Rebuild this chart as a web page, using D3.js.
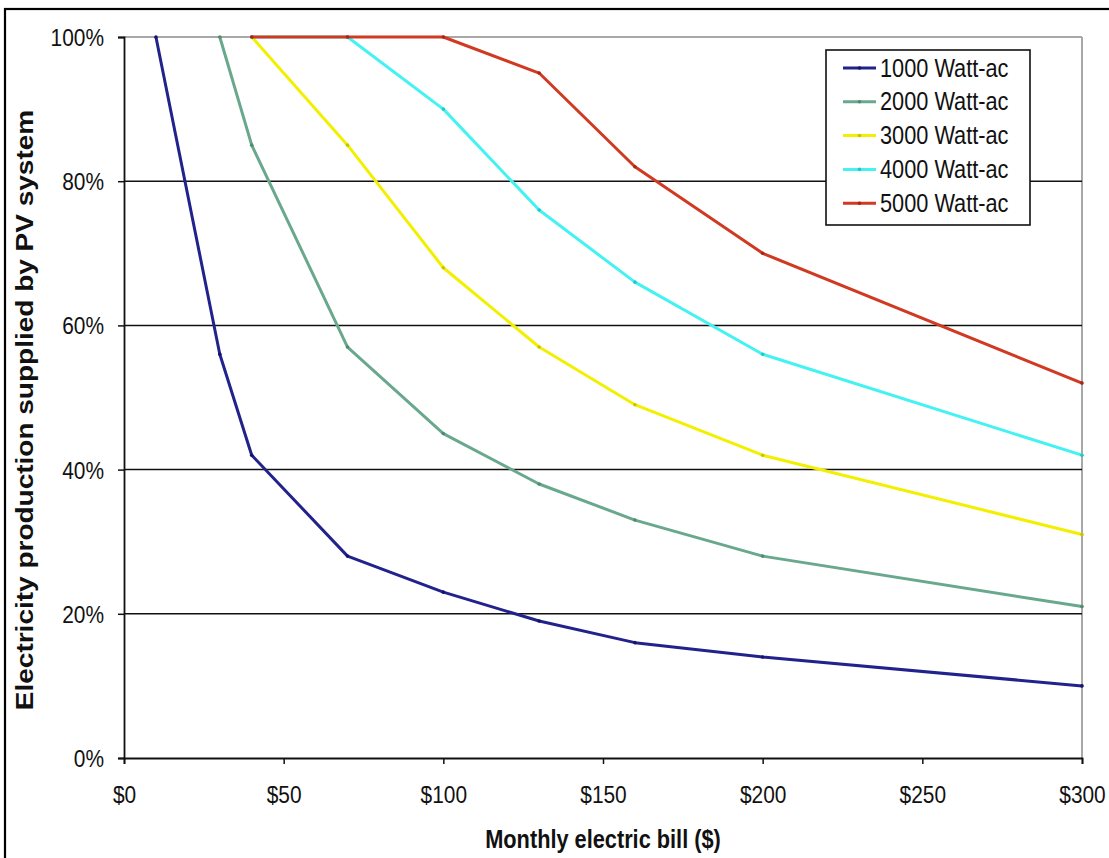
<!DOCTYPE html>
<html>
<head>
<meta charset="utf-8">
<script src="https://cdn.jsdelivr.net/npm/d3@7"></script>
<style>
  html, body { margin: 0; padding: 0; background: #fff; }
  svg { display: block; }
  text { font-family: Arial, "Liberation Sans", sans-serif; fill: #111; }
</style>
</head>
<body>
<svg id="chart" width="1109" height="858"></svg>
<script>
// ---- data ----
const bills = [10, 30, 40, 70, 100, 130, 160, 200, 300];
const seriesNames = ["1000 Watt-ac", "2000 Watt-ac", "3000 Watt-ac", "4000 Watt-ac", "5000 Watt-ac"];
const seriesColors = ["#22228c", "#6aa88e", "#f2f000", "#44f2f2", "#d03a22"];
const markerColors = ["#14146a", "#4f8a72", "#c8c400", "#20c8c8", "#a02818"];
// null where the series has no point
const w1000 = [100, 56, 42, 28, 23, 19, 16, 14, 10];
const w2000 = [null, 100, 85, 57, 45, 38, 33, 28, 21];
const w3000 = [null, null, 100, 85, 68, 57, 49, 42, 31];
const w4000 = [null, null, 100, 100, 90, 76, 66, 56, 42];
const w5000 = [null, null, 100, 100, 100, 95, 82, 70, 52];
const seriesValues = [w1000, w2000, w3000, w4000, w5000];
const xTicks = [0, 50, 100, 150, 200, 250, 300];
const yTicks = [0, 20, 40, 60, 80, 100];

// ---- layout ----
const svg = d3.select("#chart");
const pL = 124, pR = 1082, pT = 37, pB = 758;
const SX = 0.87; // horizontal squash of text seen in reference

const x = d3.scaleLinear().domain([0, 300]).range([pL, pR]);
const y = d3.scaleLinear().domain([0, 100]).range([pB, pT]);

// outer frame
svg.append("rect").attr("x", 5).attr("y", 9).attr("width", 1120).attr("height", 870)
  .attr("fill", "#fff").attr("stroke", "#000").attr("stroke-width", 2.2);

// plot border (gray top & right)
svg.append("line").attr("x1", pL).attr("x2", pR).attr("y1", y(100)).attr("y2", y(100))
  .attr("stroke", "#a8a8a8").attr("stroke-width", 2);
svg.append("line").attr("x1", pR).attr("x2", pR).attr("y1", pT).attr("y2", pB)
  .attr("stroke", "#a8a8a8").attr("stroke-width", 2);

// gridlines
svg.append("g").selectAll("line").data(yTicks.filter(d => d > 0 && d < 100)).join("line")
  .attr("x1", pL).attr("x2", pR).attr("y1", d => y(d)).attr("y2", d => y(d))
  .attr("stroke", "#111").attr("stroke-width", 1.5);

// y axis
const yAxis = svg.append("g").attr("transform", `translate(${pL},0)`)
  .call(d3.axisLeft(y).tickValues(yTicks).tickFormat(d => d + "%").tickSize(6).tickPadding(0));
yAxis.select(".domain").attr("stroke", "#111").attr("stroke-width", 1.8);
yAxis.selectAll(".tick line").attr("stroke", "#111").attr("stroke-width", 1.5);
yAxis.selectAll(".tick text")
  .attr("x", 0).attr("dy", "0.35em")
  .attr("transform", `translate(-20,0) scale(${SX},1)`)
  .style("font-size", "24px").style("font-family", "Arial, 'Liberation Sans', sans-serif").attr("fill", "#111");

// x axis
const xAxis = svg.append("g").attr("transform", `translate(0,${pB})`)
  .call(d3.axisBottom(x).tickValues(xTicks).tickFormat(d => "$" + d).tickSize(6).tickPadding(0));
xAxis.select(".domain").attr("stroke", "#111").attr("stroke-width", 1.8);
xAxis.selectAll(".tick line").attr("stroke", "#111").attr("stroke-width", 1.5);
xAxis.selectAll(".tick text")
  .attr("y", 0).attr("dy", 0)
  .attr("transform", `translate(0,45) scale(${SX},1)`)
  .style("font-size", "24px").style("font-family", "Arial, 'Liberation Sans', sans-serif").attr("fill", "#111");

// axis titles
svg.append("text")
  .attr("transform", `translate(${(pL + pR) / 2},848) scale(${SX},1)`)
  .attr("text-anchor", "middle").style("font-size", "25px").style("font-weight", "bold")
  .text("Monthly electric bill ($)");
svg.append("text")
  .attr("transform", `translate(33,410) scale(${SX},1) rotate(-90)`)
  .attr("text-anchor", "middle").style("font-size", "28px").style("font-weight", "bold")
  .text("Electricity production supplied by PV system");

// lines
const line = d3.line()
  .defined(d => d.v != null)
  .x(d => x(d.b)).y(d => y(d.v));

const seriesData = seriesNames.map((name, i) => ({
  name, color: seriesColors[i], mcolor: markerColors[i],
  pts: bills.map((b, j) => ({ b, v: seriesValues[i][j] }))
}));

const sg = svg.append("g").selectAll("g").data(seriesData).join("g");
sg.append("path")
  .attr("d", d => line(d.pts))
  .attr("fill", "none").attr("stroke", d => d.color).attr("stroke-width", 3)
  .attr("stroke-linejoin", "round");
sg.selectAll("circle").data(d => d.pts.filter(p => p.v != null).map(p => ({ ...p, c: d.mcolor })))
  .join("circle")
  .attr("cx", p => x(p.b)).attr("cy", p => y(p.v)).attr("r", 1.8).attr("fill", p => p.c);

// legend
const lg = svg.append("g");
lg.append("rect").attr("x", 826).attr("y", 50).attr("width", 204).attr("height", 175)
  .attr("fill", "#fff").attr("stroke", "#111").attr("stroke-width", 1.6);
const rows = lg.selectAll("g.row").data(seriesData).join("g")
  .attr("class", "row").attr("transform", (d, i) => `translate(0,${68 + i * 33.8})`);
rows.append("line").attr("x1", 843).attr("x2", 876).attr("y1", 0).attr("y2", 0)
  .attr("stroke", d => d.color).attr("stroke-width", 3);
rows.append("circle").attr("cx", 859.5).attr("cy", 0).attr("r", 1.8).attr("fill", d => d.mcolor);
rows.append("text")
  .attr("transform", `translate(880,8.5) scale(${SX},1)`)
  .style("font-size", "25px").text(d => d.name);
</script>
</body>
</html>
